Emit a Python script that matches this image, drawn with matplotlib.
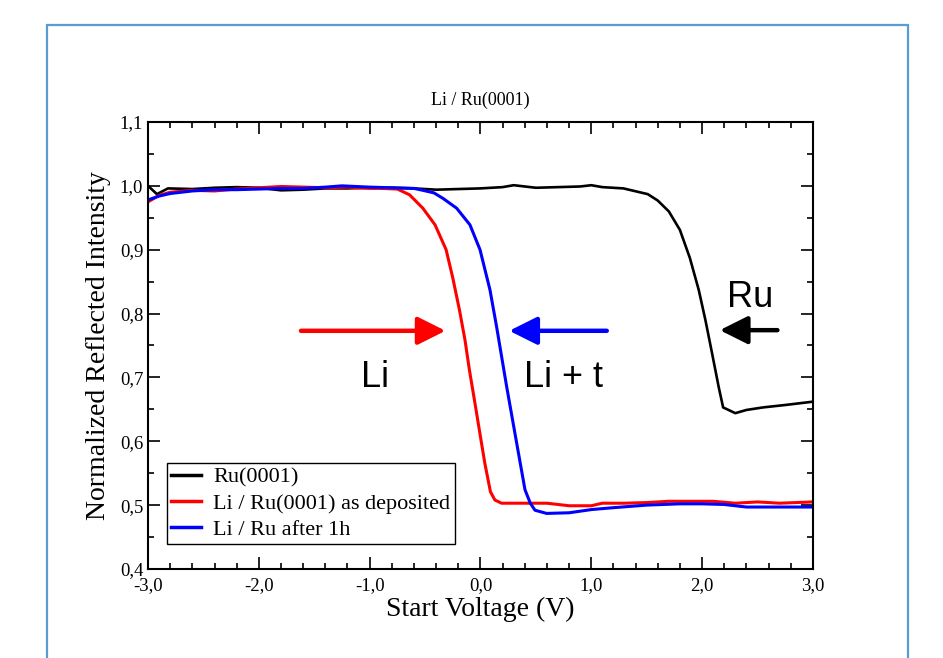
import matplotlib
matplotlib.use("Agg")
import matplotlib.pyplot as plt
from matplotlib.patches import FancyArrowPatch, Rectangle
from matplotlib.ticker import MultipleLocator, FuncFormatter

# Ru(0001) - clean surface
ru_v = [-3.0, -2.92, -2.82, -2.6, -2.4, -2.2, -2.0, -1.8, -1.6, -1.4, -1.2, -1.0,
        -0.8, -0.6, -0.4, -0.2, 0.0, 0.2, 0.3, 0.5, 0.7, 0.9, 1.0, 1.1, 1.29, 1.51,
        1.6, 1.70, 1.80, 1.89, 1.97, 2.03, 2.09, 2.15, 2.19, 2.30, 2.40, 2.55, 2.76, 3.0]
ru_i = [1.000, 0.987, 0.996, 0.995, 0.997, 0.998, 0.997, 0.993, 0.994, 0.996, 0.996, 0.997,
        0.997, 0.996, 0.994, 0.995, 0.996, 0.998, 1.001, 0.997, 0.998, 0.999, 1.001, 0.998, 0.996, 0.987,
        0.977, 0.960, 0.931, 0.887, 0.837, 0.790, 0.738, 0.685, 0.653, 0.644, 0.649, 0.653, 0.657, 0.662]

# Li / Ru(0001) as deposited
li_v = [-3.0, -2.9, -2.8, -2.6, -2.4, -2.2, -2.0, -1.8, -1.6, -1.4, -1.2, -1.0, -0.9,
        -0.75, -0.64, -0.52, -0.41, -0.31, -0.25, -0.19, -0.14, -0.10, -0.05, 0.0, 0.04,
        0.09, 0.13, 0.19, 0.4, 0.6, 0.8, 1.0, 1.1, 1.3, 1.5, 1.7, 1.9, 2.1, 2.3, 2.5, 2.7, 3.0]
li_i = [0.975, 0.985, 0.990, 0.993, 0.992, 0.995, 0.997, 0.999, 0.998, 0.997, 0.998, 0.996, 0.996,
        0.995, 0.986, 0.965, 0.939, 0.900, 0.856, 0.806, 0.759, 0.712, 0.660, 0.607, 0.565,
        0.521, 0.508, 0.503, 0.503, 0.503, 0.499, 0.499, 0.503, 0.503, 0.504, 0.506, 0.506,
        0.506, 0.503, 0.505, 0.503, 0.505]

# Li / Ru after 1h
li1h_v = [-3.0, -2.9, -2.8, -2.6, -2.4, -2.2, -2.0, -1.8, -1.6, -1.4, -1.25, -1.0, -0.8,
          -0.6, -0.52, -0.42, -0.335, -0.215, -0.095, -0.004, 0.086, 0.146, 0.237, 0.327,
          0.402, 0.45, 0.492, 0.597, 0.8, 1.0, 1.2, 1.5, 1.8, 2.0, 2.2, 2.4, 2.7, 3.0]
li1h_i = [0.978, 0.984, 0.988, 0.992, 0.994, 0.994, 0.995, 0.996, 0.996, 0.998, 1.000, 0.998, 0.997,
          0.996, 0.993, 0.989, 0.980, 0.965, 0.939, 0.900, 0.837, 0.779, 0.685, 0.597,
          0.524, 0.503, 0.492, 0.487, 0.488, 0.493, 0.496, 0.500, 0.502, 0.502, 0.501,
          0.497, 0.497, 0.497]

labels = ["Ru(0001)", "Li / Ru(0001) as deposited", "Li / Ru after 1h"]

SERIF = "Liberation Serif"
SANS = "Liberation Sans"


def comma(v, pos):
    return ("%.1f" % v).replace(".", ",")


def arrow(ax, x0, x1, y, color):
    a = FancyArrowPatch((x0, y), (x1, y),
                        arrowstyle="-|>,head_length=17,head_width=8.5",
                        mutation_scale=1, lw=3.2, color=color,
                        shrinkA=0, shrinkB=0, zorder=5)
    ax.add_patch(a)


fig = plt.figure(figsize=(9.43, 6.58), dpi=100)
ax = fig.add_axes([0.157, 0.1353, 0.705, 0.6793])

ax.plot(ru_v, ru_i, color="black", lw=1.9, label=labels[0])
ax.plot(li_v, li_i, color="#ff0000", lw=2.2, label=labels[1])
ax.plot(li1h_v, li1h_i, color="#0000ff", lw=2.2, label=labels[2])

ax.set_xlim(-3.0, 3.0)
ax.set_ylim(0.4, 1.1)
ax.xaxis.set_major_locator(MultipleLocator(1.0))
ax.xaxis.set_minor_locator(MultipleLocator(0.2))
ax.yaxis.set_major_locator(MultipleLocator(0.1))
ax.yaxis.set_minor_locator(MultipleLocator(0.05))
ax.xaxis.set_major_formatter(FuncFormatter(comma))
ax.yaxis.set_major_formatter(FuncFormatter(comma))
ax.tick_params(which="both", direction="in", top=True, right=True, width=1.2)
ax.tick_params(which="major", length=8.5)
ax.tick_params(which="minor", length=4.5)
ax.tick_params(axis="x", pad=6)
ax.tick_params(axis="y", pad=3.5)
for t in ax.get_xticklabels() + ax.get_yticklabels():
    t.set_fontfamily(SERIF)
    t.set_fontsize(13.5)
for s in ax.spines.values():
    s.set_linewidth(1.5)

ax.set_title("Li / Ru(0001)", fontsize=13, family=SERIF, pad=12)
ax.set_xlabel("Start Voltage (V)", fontsize=20, family=SERIF, labelpad=2)
ax.set_ylabel("Normalized Reflected Intensity", fontsize=20, family=SERIF, labelpad=6)

leg = ax.legend(loc="lower left", bbox_to_anchor=(0.028, 0.055), borderaxespad=0,
                prop={"family": SERIF, "size": 16}, fancybox=False, framealpha=1,
                edgecolor="black", handlelength=1.35, handletextpad=0.55,
                labelspacing=0.25, borderpad=0.2)
leg.get_frame().set_linewidth(1.0)
for h in leg.get_lines():
    h.set_linewidth(2.5)

# annotations
arrow(ax, -1.62, -0.315, 0.773, "#ff0000")
arrow(ax, 1.14, 0.26, 0.773, "#0000ff")
arrow(ax, 2.68, 2.16, 0.774, "black")
ax.text(-0.952, 0.685, "Li", ha="center", va="baseline", fontsize=26, family=SANS)
ax.text(0.751, 0.685, "Li + t", ha="center", va="baseline", fontsize=26, family=SANS)
ax.text(2.434, 0.8095, "Ru", ha="center", va="baseline", fontsize=26, family=SANS)

# light blue page frame
frame = Rectangle((47 / 943, -0.05), (908 - 47) / 943, 1.05 - 25 / 658,
                  transform=fig.transFigure, fill=False, edgecolor="#5b9bd5",
                  lw=1.6, clip_on=False)
fig.add_artist(frame)

fig.savefig("out.png", dpi=100)
